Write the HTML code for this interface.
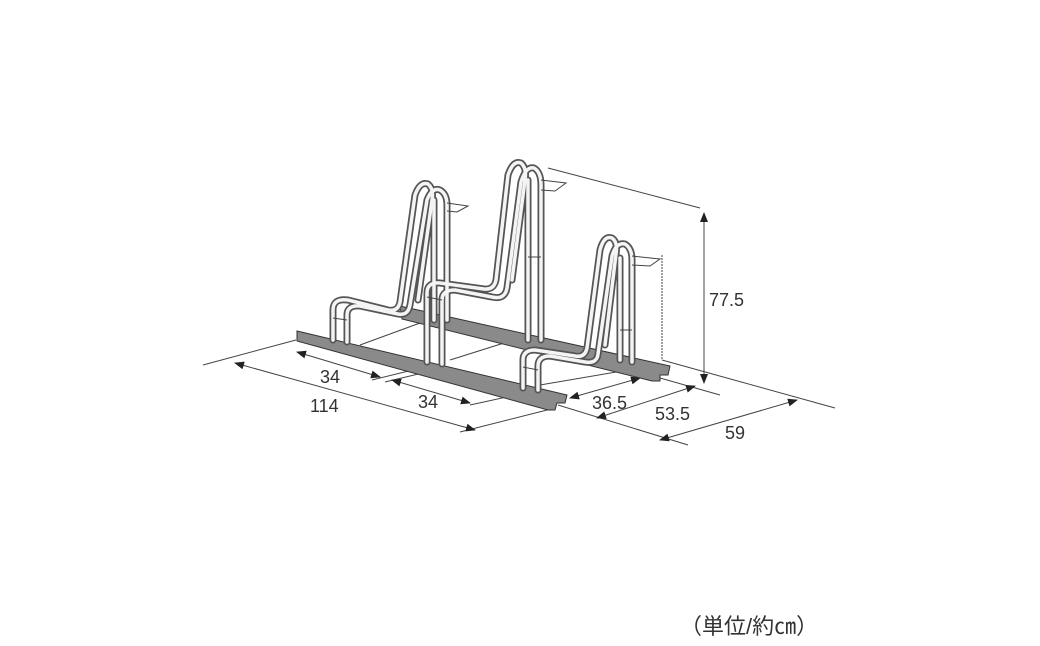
<!DOCTYPE html>
<html><head><meta charset="utf-8"><style>
html,body{margin:0;padding:0;background:#fff;}
svg{display:block}
text{font-family:"Liberation Sans","Noto Sans CJK JP",sans-serif;fill:#333;}
</style></head><body>
<svg width="1040" height="646" viewBox="0 0 1040 646" xmlns="http://www.w3.org/2000/svg">
<defs>
<marker id="a" markerWidth="10" markerHeight="8" refX="9" refY="4" orient="auto" markerUnits="userSpaceOnUse"><path d="M0,0 L10,4 L0,8z" fill="#222"/></marker>
<marker id="b" markerWidth="10" markerHeight="8" refX="1" refY="4" orient="auto" markerUnits="userSpaceOnUse"><path d="M10,0 L0,4 L10,8z" fill="#222"/></marker>
</defs>
<g stroke="#444" stroke-width="1" fill="none">
<line x1="360" y1="345" x2="420" y2="323"/>
<line x1="450" y1="360" x2="520" y2="338"/>
<line x1="540" y1="385" x2="640" y2="368"/>
<line x1="548" y1="168" x2="700" y2="208"/>
<line x1="662" y1="255" x2="662" y2="360" stroke-dasharray="2,1"/>
<line x1="662" y1="360" x2="835" y2="408"/>
<line x1="660" y1="378" x2="720" y2="395"/>
<line x1="558" y1="405" x2="688" y2="445"/>
<line x1="203" y1="365" x2="296" y2="340"/>
<line x1="460" y1="432" x2="555" y2="408"/>
<line x1="385" y1="382" x2="435" y2="370"/>
<line x1="470" y1="405" x2="530" y2="392"/>
<line x1="372" y1="380" x2="425" y2="367"/>
<line x1="704" y1="213" x2="704" y2="383" marker-start="url(#b)" marker-end="url(#a)"/>
<line x1="235" y1="363" x2="475" y2="430" marker-start="url(#b)" marker-end="url(#a)"/>
<line x1="297" y1="352" x2="380" y2="377" marker-start="url(#b)" marker-end="url(#a)"/>
<line x1="392" y1="380" x2="470" y2="403" marker-start="url(#b)" marker-end="url(#a)"/>
<line x1="570" y1="398" x2="640" y2="378" marker-start="url(#b)" marker-end="url(#a)"/>
<line x1="597" y1="418" x2="695" y2="386" marker-start="url(#b)" marker-end="url(#a)"/>
<line x1="660" y1="440" x2="797" y2="400" marker-start="url(#b)" marker-end="url(#a)"/>
</g>
<g stroke="#333" stroke-width="1" fill="#8a8a8a">
<path d="M400,306 L670,366 L668,375 L660,375 L660,381 L652,381 L402,319 Z"/>
<path d="M297,331 L567,395 L565,403 L557,403 L555,410 L548,410 L297,341 Z"/>
</g>
<g fill="none" stroke-linecap="round" stroke-linejoin="round">
<g stroke="#555" stroke-width="7">
<path d="M333,340 V310 Q333,298 348,300 L388,310 Q398,312 400,302 L415,195 Q420,181 428,184 Q434,189 432,200 L418,300"/>
<path d="M347,342 V315 Q347,305 360,306 L398,314 Q408,316 410,305 L427,200 Q432,187 440,190 Q447,194 447,205 V320"/>
<path d="M434,200 V320"/>
<path d="M427,362 V293 Q427,282 440,283 L484,289 Q494,290 496,280 L508,175 Q513,160 521,163 Q527,168 525,180 L512,280"/>
<path d="M442,364 V300 Q442,290 455,290 L492,297 Q505,300 507,288 L521,182 Q526,166 534,168 Q541,172 541,185 V340"/>
<path d="M528,180 V340"/>
<path d="M523,388 V360 Q523,350 535,350 L575,356 Q585,358 587,348 L600,250 Q604,235 612,238 Q618,242 616,254 L605,345"/>
<path d="M538,390 V366 Q538,356 550,356 L585,362 Q597,364 598,354 L612,256 Q616,242 625,244 Q632,248 632,260 V362"/>
<path d="M620,258 V360"/>
</g>
<g stroke="#f4f4f4" stroke-width="3.5">
<path d="M333,340 V310 Q333,298 348,300 L388,310 Q398,312 400,302 L415,195 Q420,181 428,184 Q434,189 432,200 L418,300"/>
<path d="M347,342 V315 Q347,305 360,306 L398,314 Q408,316 410,305 L427,200 Q432,187 440,190 Q447,194 447,205 V320"/>
<path d="M434,200 V320"/>
<path d="M427,362 V293 Q427,282 440,283 L484,289 Q494,290 496,280 L508,175 Q513,160 521,163 Q527,168 525,180 L512,280"/>
<path d="M442,364 V300 Q442,290 455,290 L492,297 Q505,300 507,288 L521,182 Q526,166 534,168 Q541,172 541,185 V340"/>
<path d="M528,180 V340"/>
<path d="M523,388 V360 Q523,350 535,350 L575,356 Q585,358 587,348 L600,250 Q604,235 612,238 Q618,242 616,254 L605,345"/>
<path d="M538,390 V366 Q538,356 550,356 L585,362 Q597,364 598,354 L612,256 Q616,242 625,244 Q632,248 632,260 V362"/>
<path d="M620,258 V360"/>
</g>
</g>
<g stroke="#444" stroke-width="1" fill="none">
<path d="M447,203 L468,206 L457,212 L447,211"/>
<path d="M541,180 L566,183 L555,191 L541,190"/>
<path d="M632,256 L660,259 L650,266 L632,265"/>
<line x1="333" y1="318" x2="347" y2="320"/>
<line x1="427" y1="297" x2="442" y2="300"/>
<line x1="523" y1="367" x2="538" y2="370"/>
<line x1="528" y1="257" x2="541" y2="257"/>
<line x1="620" y1="330" x2="632" y2="330"/>
</g>
<g font-size="18">
<text x="709" y="306">77.5</text>
<text x="320" y="383">34</text>
<text x="310" y="412">114</text>
<text x="418" y="408">34</text>
<text x="592" y="409">36.5</text>
<text x="655" y="420">53.5</text>
<text x="725" y="439">59</text>
</g>
<text x="680" y="634" font-size="22">（単位/約㎝）</text>
</svg>
</body></html>
